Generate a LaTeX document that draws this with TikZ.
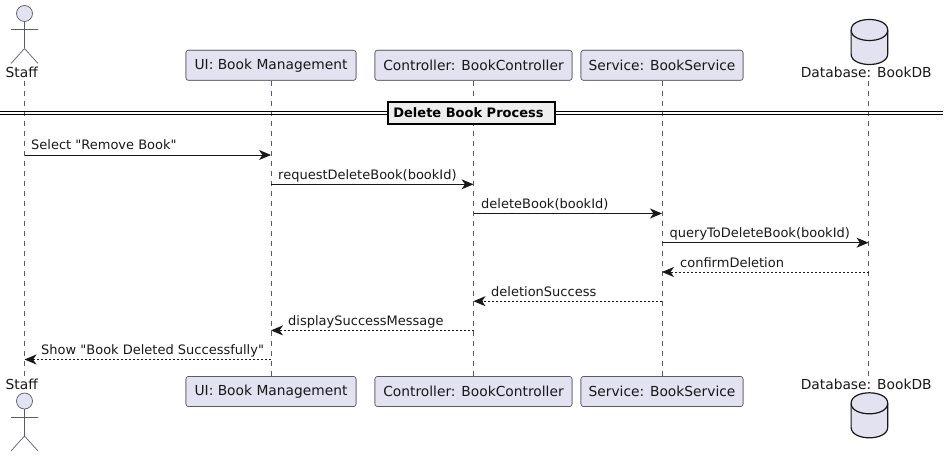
\documentclass[tikz,border=0pt]{standalone}
\usepackage{fontspec}
\setmainfont{DejaVu Sans}[Ligatures=TeXOff]
\usetikzlibrary{arrows.meta}
\definecolor{pfill}{HTML}{E2E2F0}
\definecolor{pline}{HTML}{5A5A68}
\definecolor{ink}{HTML}{181818}
\definecolor{sepfill}{HTML}{EEEEEE}
\tikzset{
  x=1pt,y=-1pt,
  every node/.style={font=\fontsize{13.8}{16}\selectfont,text=ink,inner sep=0pt},
  partbox/.style={draw=pline,line width=0.6pt,fill=pfill,rounded corners=2.5pt,minimum height=30pt,anchor=center},
  plainlabel/.style={anchor=base},
  lifeline/.style={draw=pline,line width=0.6pt,dash pattern=on 5pt off 5pt},
  msg/.style={draw=ink,line width=0.9pt,-{Stealth[length=12pt,width=10pt,inset=3.5pt]}},
  reply/.style={msg,dash pattern=on 2pt off 2pt},
  msglabel/.style={anchor=base west,font=\fontsize{13}{16}\selectfont},
  actorline/.style={draw=pline,line width=0.7pt},
  dbline/.style={draw=ink,line width=1.2pt,fill=pfill},
  sepline/.style={draw=black,line width=1.2pt},
  septitle/.style={draw=black,line width=2pt,fill=sepfill,minimum width=167pt,minimum height=22pt,font=\fontsize{13}{16}\selectfont\bfseries,text=black}
}
\newcommand{\actorfig}[2]{%
  \draw[actorline,fill=pfill] (#1,#2) circle (8);
  \draw[actorline] (#1,#2+8) -- (#1,#2+35);
  \draw[actorline] (#1-13.5,#2+16) -- (#1+13.5,#2+16);
  \draw[actorline] (#1-13.5,#2+50) -- (#1,#2+35) -- (#1+13.5,#2+50);
}
\newcommand{\dbfig}[2]{%
  \draw[dbline] (#1-18.3,#2+11) .. controls (#1-18.3,#2-3) and (#1+18.3,#2-3) .. (#1+18.3,#2+11)
    -- (#1+18.3,#2+35) .. controls (#1+18.3,#2+49) and (#1-18.3,#2+49) .. (#1-18.3,#2+35) -- cycle;
  \draw[dbline,fill=none] (#1-18.3,#2+11) .. controls (#1-18.3,#2+25) and (#1+18.3,#2+25) .. (#1+18.3,#2+11);
}
\begin{document}
\begin{tikzpicture}
\useasboundingbox (0,0) rectangle (948,457);
\coordinate (staffT) at (24.5,81);
\coordinate (staffB) at (24.5,376);
\coordinate (dbT) at (868.5,81);
\coordinate (dbB) at (868.5,376);
\node[partbox,minimum width=170pt] (uiT) at (271,65.3) {};
\node[partbox,minimum width=170pt] (uiB) at (271,391.5) {};
\node[partbox,minimum width=197pt] (ctT) at (473.5,65.3) {};
\node[partbox,minimum width=197pt] (ctB) at (473.5,391.5) {};
\node[partbox,minimum width=162pt] (svT) at (662,65.3) {};
\node[partbox,minimum width=162pt] (svB) at (662,391.5) {};
\draw[lifeline] (staffT) -- (staffB);
\draw[lifeline] (uiT.south) -- (uiB.north);
\draw[lifeline] (ctT.south) -- (ctB.north);
\draw[lifeline] (svT.south) -- (svB.north);
\draw[lifeline] (dbT) -- (dbB);
\node[partbox,minimum width=170pt] at (271,65.3) {UI: Book Management};
\node[partbox,minimum width=170pt] at (271,391.5) {UI: Book Management};
\node[partbox,minimum width=197pt] at (473.5,65.3) {Controller: BookController};
\node[partbox,minimum width=197pt] at (473.5,391.5) {Controller: BookController};
\node[partbox,minimum width=162pt] at (662,65.3) {Service: BookService};
\node[partbox,minimum width=162pt] at (662,391.5) {Service: BookService};
\actorfig{24.5}{13.5}
\actorfig{24.5}{401}
\node[plainlabel] (staffTop) at (21.7,78) {Staff};
\node[plainlabel] (staffBot) at (21.7,389) {Staff};
\dbfig{869.4}{19}
\dbfig{869.4}{392.3}
\node[plainlabel] (dbTop) at (866.2,78) {Database: BookDB};
\node[plainlabel] (dbBot) at (866.2,389) {Database: BookDB};
\coordinate (sepL) at (0,111.5);
\coordinate (sepR) at (943,111.5);
\coordinate (sepL2) at (0,114.3);
\coordinate (sepR2) at (943,114.3);
\draw[sepline] (sepL) -- (sepR);
\draw[sepline] (sepL2) -- (sepR2);
\node[septitle] (title) at (471.2,113) {\hspace*{-5.4pt}Delete Book Process};
\foreach \n/\y in {r1/155,r2/184.3,r3/213.5,r4/242.7,r5/272,r6/301.2,r7/330.4,r8/359.5}
  \coordinate (\n) at (0,\y);
\draw[msg] (staffT |- r1) -- (uiT |- r1);
\draw[msg] (uiT |- r2) -- (ctT |- r2);
\draw[msg] (ctT |- r3) -- (svT |- r3);
\draw[msg] (svT |- r4) -- (dbT |- r4);
\draw[reply] (dbT |- r5) -- (svT |- r5);
\draw[reply] (svT |- r6) -- (ctT |- r6);
\draw[reply] (ctT |- r7) -- (uiT |- r7);
\draw[reply] (uiT |- r8) -- (staffT |- r8);
\node[msglabel] (l1) at (31,150) {Select "Remove Book"};
\node[msglabel] (l2) at (278,179.3) {requestDeleteBook(bookId)};
\node[msglabel] (l3) at (481,208.5) {deleteBook(bookId)};
\node[msglabel] (l4) at (669.5,237.7) {queryToDeleteBook(bookId)};
\node[msglabel] (l5) at (680,267) {confirmDeletion};
\node[msglabel] (l6) at (491,296.2) {deletionSuccess};
\node[msglabel] (l7) at (288,325.4) {displaySuccessMessage};
\node[msglabel] (l8) at (41,354.5) {Show "Book Deleted Successfully"};
\end{tikzpicture}
\end{document}
